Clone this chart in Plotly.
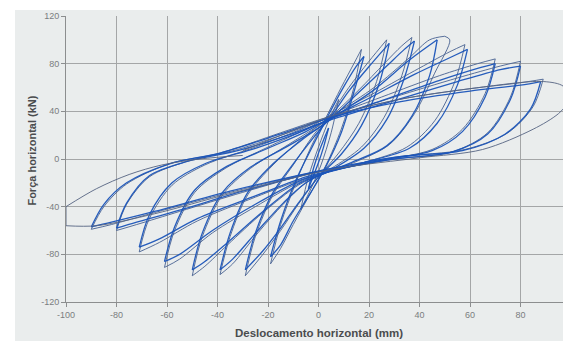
import plotly.graph_objects as go

# ---- axis ticks ----
x_ticks = [-100, -80, -60, -40, -20, 0, 20, 40, 60, 80, 100]
x_tick_text = ["-100", "-80", "-60", "-40", "-20", "0", "20", "40", "60", "80", "100"]
y_ticks = [-120, -80, -40, 0, 40, 80, 120]
y_tick_text = ["-120", "-80", "-40", "0", "40", "80", "120"]

# ---- hysteresis cycles (displacement mm, force kN) ----
# each loop starts at its negative tip, runs to the positive tip and back
c05_x = [-4, -2, 0, 2, 4, 2, 0, -2, -4]
c05_f = [-25, -8, 5, 16, 26, 10, -3, -14, -25]
c08_x = [-7, -4, 0, 4, 8, 5, 1, -3, -7]
c08_f = [-42, -15, 10, 32, 50, 22, -5, -25, -42]

c20a_x = [-19, -15, -9, -3, 3, 9, 14, 17, 14, 9, 3, -3, -10, -15, -19]
c20a_f = [-88, -55, -20, 10, 35, 60, 80, 92, 60, 25, -5, -28, -55, -75, -88]
c20b_x = [-19, -15, -9, -3, 3, 9, 15, 18, 14, 9, 3, -3, -10, -15, -19]
c20b_f = [-82, -52, -18, 8, 33, 57, 78, 86, 56, 22, -6, -28, -52, -72, -82]

c30a_x = [-29, -25, -18, -10, -2, 5, 12, 20, 27, 23, 16, 8, 0, -8, -15, -22, -29]
c30a_f = [-98, -65, -30, -5, 20, 38, 60, 82, 100, 65, 30, 5, -15, -38, -60, -80, -98]
c30b_x = [-29, -25, -18, -10, -2, 5, 12, 21, 28, 24, 17, 9, 0, -8, -15, -22, -29]
c30b_f = [-93, -62, -28, -4, 18, 36, 57, 80, 97, 63, 28, 4, -15, -37, -58, -77, -93]

c40a_x = [-39, -35, -28, -18, -6, 5, 16, 26, 33, 37, 33, 26, 17, 5, -5, -14, -24, -34, -39]
c40a_f = [-97, -65, -30, -5, 18, 36, 58, 80, 95, 102, 70, 35, 10, -8, -20, -38, -62, -88, -97]
c40b_x = [-39, -35, -28, -18, -6, 5, 16, 27, 34, 38, 34, 27, 18, 6, -5, -14, -24, -34, -39]
c40b_f = [-93, -62, -28, -4, 17, 34, 56, 78, 92, 99, 68, 33, 9, -8, -20, -37, -60, -84, -93]

c50a_x = [-50, -46, -38, -27, -12, 0, 8, 22, 36, 44, 50, 52, 46, 38, 28, 14, 0, -8, -22, -36, -45, -50]
c50a_f = [-98, -65, -30, -8, 12, 28, 40, 60, 85, 100, 103, 100, 72, 38, 12, -3, -14, -22, -45, -72, -90, -98]
c50b_x = [-50, -46, -38, -27, -12, 0, 8, 22, 36, 47, 44, 37, 27, 13, 0, -8, -22, -36, -45, -50]
c50b_f = [-93, -62, -28, -7, 11, 26, 38, 58, 83, 100, 70, 36, 11, -3, -14, -21, -44, -70, -86, -93]

c60a_x = [-61, -57, -49, -37, -20, -5, 6, 20, 38, 52, 58, 54, 46, 35, 18, 2, -8, -25, -42, -55, -61]
c60a_f = [-91, -60, -28, -8, 10, 25, 38, 53, 74, 90, 96, 65, 32, 10, -3, -12, -20, -40, -62, -84, -91]
c60b_x = [-61, -57, -49, -37, -20, -5, 6, 20, 38, 53, 59, 55, 47, 36, 18, 2, -8, -25, -42, -55, -61]
c60b_f = [-86, -57, -26, -7, 9, 23, 36, 51, 71, 86, 92, 62, 30, 9, -3, -12, -19, -38, -60, -80, -86]

c70a_x = [-71, -67, -58, -45, -25, -8, 5, 25, 48, 63, 70, 66, 57, 45, 25, 5, -5, -25, -48, -63, -71]
c70a_f = [-78, -50, -22, -5, 10, 24, 36, 52, 70, 80, 84, 55, 25, 8, -1, -10, -16, -32, -52, -70, -78]
c70b_x = [-71, -67, -58, -45, -25, -8, 5, 25, 48, 63, 70, 66, 57, 45, 25, 5, -5, -25, -48, -63, -71]
c70b_f = [-74, -47, -20, -4, 9, 22, 34, 49, 66, 76, 80, 52, 23, 7, -1, -10, -15, -31, -50, -67, -74]

c80a_x = [-80, -76, -67, -52, -32, -12, 5, 30, 55, 72, 80, 76, 67, 53, 30, 8, -3, -30, -55, -72, -80]
c80a_f = [-60, -38, -15, -2, 8, 22, 35, 52, 68, 78, 82, 52, 22, 6, 0, -8, -12, -28, -44, -55, -60]
c80b_x = [-80, -76, -67, -52, -32, -12, 5, 30, 55, 72, 80, 76, 67, 53, 30, 8, -3, -30, -55, -72, -80]
c80b_f = [-58, -37, -14, -2, 7, 20, 33, 49, 65, 75, 78, 50, 21, 6, 0, -8, -12, -27, -43, -53, -58]

c90a_x = [-90, -85, -76, -59, -39, -15, 5, 32, 60, 80, 89, 85, 75, 58, 32, 10, -2, -35, -65, -82, -90]
c90a_f = [-59, -40, -21, -4, 5, 22, 36, 50, 59, 64, 67, 44, 22, 8, 2, -6, -11, -28, -45, -55, -59]
c90b_x = [-90, -85, -76, -59, -39, -15, 5, 32, 60, 80, 88, 84, 74, 57, 32, 10, -2, -35, -65, -82, -90]
c90b_f = [-57, -38, -20, -4, 5, 21, 35, 48, 57, 62, 65, 42, 21, 7, 2, -6, -11, -27, -44, -53, -57]

# final excursion to +/-100 mm (open path)
c100_x = [-30, -10, 5, 32, 60, 89, 97, 100, 95, 85, 65, 40, 10, -2, -35, -65, -88, -100, -100, -88, -75, -62, -47, -30]
c100_f = [7, 24, 36, 50, 59, 65, 61, 50, 38, 25, 8, 1, -7, -12, -29, -46, -56, -56, -40, -25, -13, -5, 0, 3]

first_cycles = [(c08_x, c08_f), (c20a_x, c20a_f), (c30a_x, c30a_f), (c40a_x, c40a_f),
                (c50a_x, c50a_f), (c60a_x, c60a_f), (c70a_x, c70a_f), (c80a_x, c80a_f),
                (c90a_x, c90a_f)]
repeat_cycles = [(c05_x, c05_f), (c20b_x, c20b_f), (c30b_x, c30b_f), (c40b_x, c40b_f),
                 (c50b_x, c50b_f), (c60b_x, c60b_f), (c70b_x, c70b_f), (c80b_x, c80b_f),
                 (c90b_x, c90b_f)]


def branches(xs, fs):
    """split a closed loop at its positive tip so each branch is smoothed separately"""
    k = fs.index(max(fs))
    return [(xs[:k + 1], fs[:k + 1]), (xs[k:], fs[k:])]


def add_branch(fig, xs, fs, color, width):
    fig.add_trace(go.Scatter(x=xs, y=fs, mode="lines",
                             line=dict(color=color, width=width, shape="spline", smoothing=0.9),
                             showlegend=False, hoverinfo="skip"))


fig = go.Figure()
col_first = "rgba(72,98,145,0.9)"
col_rep = "rgba(26,84,185,0.95)"
for xs, fs in first_cycles:
    for bx, bf in branches(xs, fs):
        add_branch(fig, bx, bf, col_first, 1)
for xs, fs in repeat_cycles:
    for bx, bf in branches(xs, fs):
        add_branch(fig, bx, bf, col_rep, 1.3)

# final path: split at its right and left extremes
i_r = c100_x.index(max(c100_x))
i_l = c100_x.index(min(c100_x))
for a, b in [(0, i_r), (i_r, i_l), (i_l, i_l + 1), (i_l + 1, len(c100_x) - 1)]:
    add_branch(fig, c100_x[a:b + 1], c100_f[a:b + 1], "rgba(85,100,130,0.9)", 1)

paper_bg = "#eaeded"
grid_col = "#a4a6a7"
axis_col = "#8c8e8f"
# the page body keeps its default 8px margin, so the figure is 8px smaller than the window
fig.update_layout(
    width=563, height=333,
    margin=dict(l=58, r=0, t=8, b=39),
    paper_bgcolor="white",
    plot_bgcolor=paper_bg,
    font=dict(family="Liberation Sans, Arial, sans-serif", size=9, color="#7a7d80"),
    shapes=[dict(type="rect", xref="paper", yref="paper", x0=-0.101, x1=1.01, y0=-0.16, y1=1.021,
                 fillcolor=paper_bg, line=dict(width=0), layer="below")],
    xaxis=dict(range=[-100, 100], tickvals=x_ticks, ticktext=x_tick_text,
               showgrid=True, gridcolor=grid_col, gridwidth=1,
               zeroline=False, showline=True, linecolor=axis_col, linewidth=1,
               ticks="outside", ticklen=4, tickcolor=axis_col),
    yaxis=dict(range=[-120, 120], tickvals=y_ticks, ticktext=y_tick_text,
               showgrid=True, gridcolor=grid_col, gridwidth=1,
               zeroline=False, showline=True, linecolor=axis_col, linewidth=1,
               ticks="outside", ticklen=4, tickcolor=axis_col),
    annotations=[
        dict(text=x_tick_text[-1], xref="x", yref="paper", x=x_ticks[-1], y=-0.026,
             xanchor="center", yanchor="top", showarrow=False,
             font=dict(size=9, color="#7a7d80")),
        dict(text="<b>Deslocamento horizontal (mm)</b>", xref="paper", yref="paper",
             x=0.5, y=-0.108, xanchor="center", yanchor="middle", showarrow=False,
             font=dict(size=11.5, color="#4a4c4e")),
        dict(text="<b>Força horizontal (kN)</b>", xref="paper", yref="paper",
             x=-0.067, y=0.53, xanchor="center", yanchor="middle", textangle=-90, showarrow=False,
             font=dict(size=11, color="#4a4c4e")),
    ],
)
fig.write_html("out.html")
